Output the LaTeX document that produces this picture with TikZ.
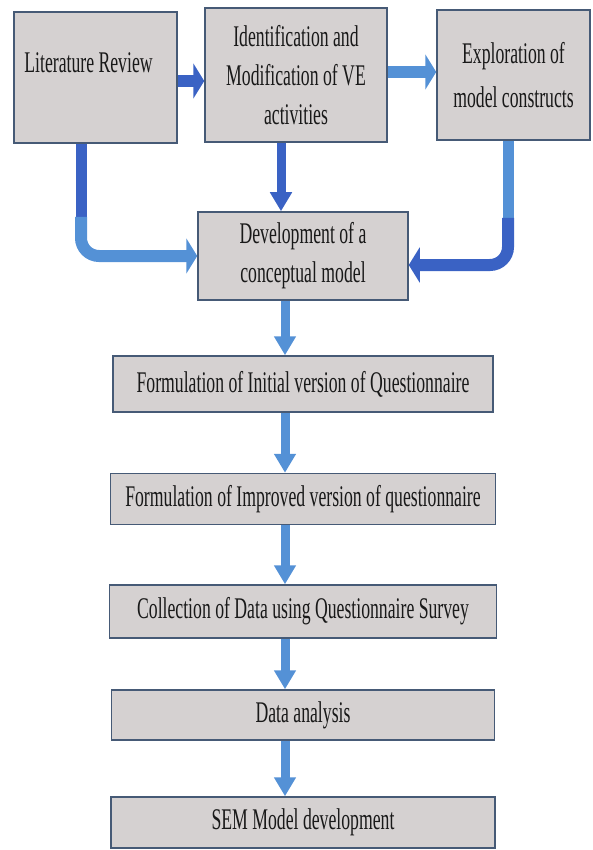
\documentclass[tikz,border=0pt]{standalone}
\usepackage{fontspec}
\setmainfont{Liberation Serif}[FakeStretch=0.59]
\usepackage{tikz}
\usetikzlibrary{arrows.meta}
\definecolor{boxfill}{RGB}{213,209,209}
\definecolor{boxline}{RGB}{70,90,118}
\definecolor{darkblue}{RGB}{58,98,196}
\definecolor{lightblue}{RGB}{84,145,214}
\tikzstyle{box} = [rectangle, draw=boxline, line width=1.5pt, fill=boxfill, text=black!90, font=\fontsize{30}{39}\selectfont, align=center, inner sep=4pt]
\tikzstyle{arrow} = [line width=9pt, lightblue, -{Triangle[width=21pt,length=19pt]}]
\tikzstyle{widearrow} = [line width=12pt, -{Triangle[width=35pt,length=11pt]}]

\begin{document}
\begin{tikzpicture}[x=1pt, y=-1pt]
	\useasboundingbox (0,0) rectangle (592,850);
	\node (lit) [box, minimum width=163pt, minimum height=131pt, text depth=29pt] at (95.5,77.5) {Literature Review\hspace*{14pt}};
	\node (ident) [box, minimum width=182pt, minimum height=134pt] at (296,75) {Identification and\\Modification of VE\\activities};
	\node (expl) [box, minimum width=153pt, minimum height=130pt] at (513.5,75) {Exploration of\\[5pt]model constructs};
	\node (dev) [box, minimum width=210pt, minimum height=88pt] at (303,256) {Development of a\\conceptual model};
	\node (qi) [box, below of=dev, node distance=128pt, minimum width=380pt, minimum height=56pt] {Formulation of Initial version of Questionnaire};
	\node (qm) [box, below of=qi, node distance=115pt, minimum width=385pt, minimum height=51pt] {Formulation of Improved version of questionnaire};
	\node (coll) [box, below of=qm, node distance=112.5pt, minimum width=387pt, minimum height=53pt] {Collection of Data using Questionnaire Survey};
	\node (ana) [box, below of=coll, node distance=103.5pt, minimum width=383pt, minimum height=50pt] {Data analysis};
	\node (sem) [box, below of=ana, node distance=107.5pt, minimum width=384pt, minimum height=51pt] {SEM Model development};

	\coordinate (row1) at (0,81);
	\coordinate (row2) at (0,72);
	\coordinate (mid) at (281,0);
	\coordinate (axis) at (285,0);
	\coordinate (litx) at (81,0);
	\coordinate (explx) at (508,0);
	\coordinate (bend1) at (81,217);
	\coordinate (bend2) at (508,218);

	\draw [widearrow, darkblue] (lit.east |- row1) -- (ident.west |- row1);
	\draw [widearrow, lightblue] (ident.east |- row2) -- (expl.west |- row2);
	\draw [arrow, darkblue] (ident.south -| mid) -- (dev.north -| mid);

	% elbow arrows into the conceptual model
	\draw [darkblue, line width=11pt] (lit.south -| litx) -- (bend1);
	\draw [widearrow, lightblue, rounded corners=18pt] (bend1) |- (dev.west);
	\draw [lightblue, line width=11pt] (expl.south -| explx) -- (bend2);
	\draw [widearrow, darkblue, rounded corners=18pt] (bend2) |- ([yshift=-9pt]dev.east);

	\draw [arrow] (dev.south -| axis) -- (qi.north -| axis);
	\draw [arrow] (qi.south -| axis) -- (qm.north -| axis);
	\draw [arrow] (qm.south -| axis) -- (coll.north -| axis);
	\draw [arrow] (coll.south -| axis) -- (ana.north -| axis);
	\draw [arrow] (ana.south -| axis) -- (sem.north -| axis);
\end{tikzpicture}
\end{document}
